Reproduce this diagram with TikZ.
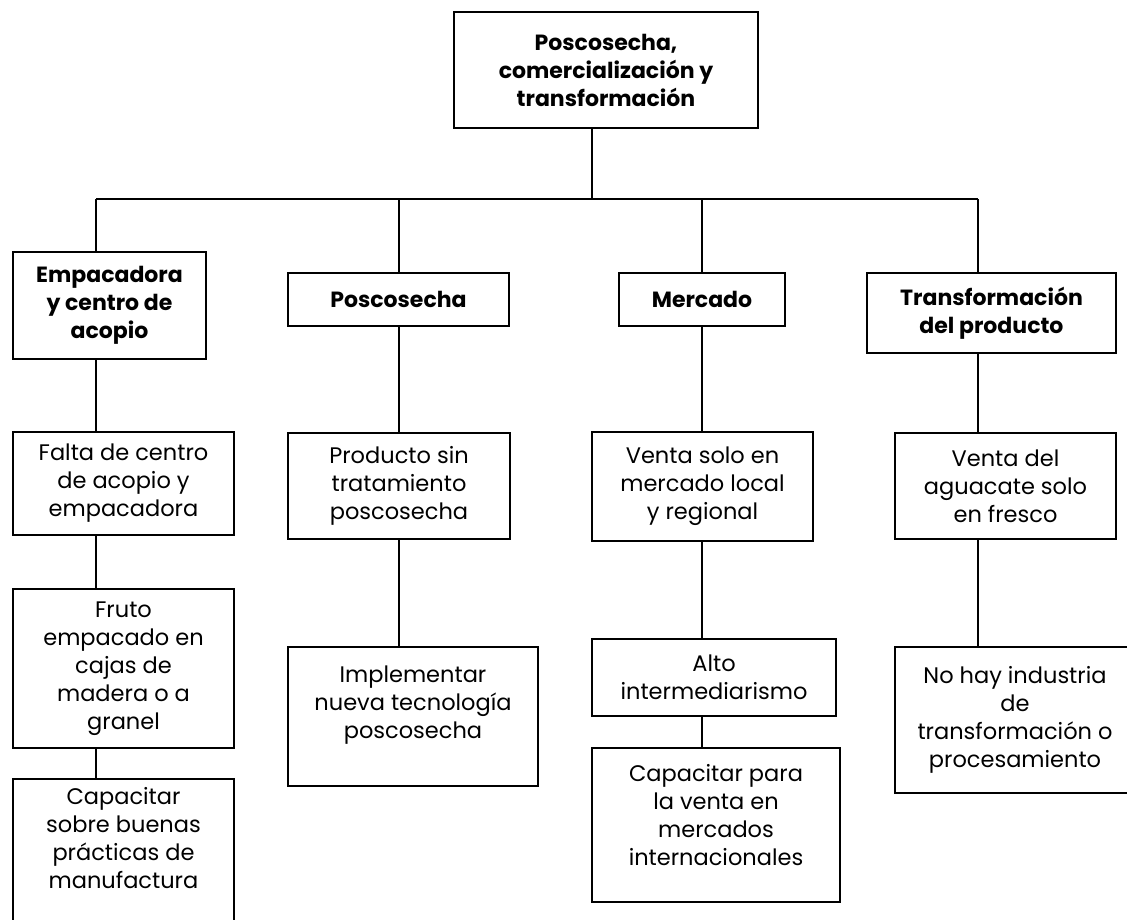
\documentclass[tikz,border=0pt]{standalone}
\usepackage{fontspec}
\setmainfont{Poppins}
\usepackage{tikz}
\usetikzlibrary{positioning}
\tikzset{
  caja/.style = {draw, line width=1.4pt, align=center, inner sep=0pt,
                 font=\fontsize{22.5}{28}\selectfont},
  cajab/.style = {caja, font=\fontsize{22}{28}\selectfont\bfseries},
  linea/.style = {line width=1.4pt}
}

\begin{document}
\begin{tikzpicture}[x=1pt,y=-1pt]
          \useasboundingbox (0,0) rectangle (1127,919);
          \node[cajab, minimum width=304, minimum height=116] (top) at (606,70) {Poscosecha,\\comercialización y\\transformación};
          \coordinate (c0) at (592,199);
          \coordinate (c1) at (96,199);
          \coordinate (c2) at (399,199);
          \coordinate (c3) at (702,199);
          \coordinate (c4) at (978,199);
          % primer nivel
          \node[cajab, minimum width=193, minimum height=107] (emp) at (109.5,305.5) {Empacadora\\y centro de\\acopio};
          \node[cajab, minimum width=221, minimum height=53] (pos) at (398.5,299.5) {Poscosecha};
          \node[cajab, minimum width=166, minimum height=53] (mer) at (702,299.5) {Mercado};
          \node[cajab, minimum width=249, minimum height=80] (tra) at (991.5,313) {Transformación\\del producto};
          % segundo nivel
          \node[caja, minimum width=221, minimum height=103] (falta) at (123.5,483.5) {Falta de centro\\de acopio y\\empacadora};
          \node[caja, minimum width=222, minimum height=106] (prod) at (399,486) {Producto sin\\tratamiento\\poscosecha};
          \node[caja, minimum width=221, minimum height=109] (venta) at (702.5,486.5) {Venta solo en\\mercado local\\y regional};
          \node[caja, minimum width=221, minimum height=106] (vdel) at (1005.5,486) {Venta del\\aguacate solo\\en fresco};
          % tercer nivel
          \node[caja, minimum width=221, minimum height=159] (fruto) at (123.5,668.5) {Fruto\\empacado en\\cajas de\\madera o a\\granel};
          \node[caja, minimum width=250, minimum height=139] (impl) at (413,716.5) {Implementar\\nueva tecnología\\poscosecha\\ \mbox{}};
          \node[caja, minimum width=244, minimum height=77] (alto) at (714,677.5) {Alto\\intermediarismo};
          \node[caja, minimum width=240, minimum height=146] (nohay) at (1015,720) {No hay industria\\de\\transformación o\\procesamiento};
          % cuarto nivel
          \node[caja, minimum width=221, minimum height=161] (capb) at (123.5,859.5) {Capacitar\\sobre buenas\\prácticas de\\manufactura\\[16pt] \mbox{}};
          \node[caja, minimum width=248, minimum height=154] (capm) at (716,825) {Capacitar para\\la venta en\\mercados\\internacionales\\[-8pt] \mbox{}};
          % conectores
          \draw[linea] (top.south -| c0) -- (c0);
          \draw[linea] (c1) -- (c4);
          \draw[linea] (c1) -- (c1 |- emp.north);
          \draw[linea] (c2) -- (c2 |- pos.north);
          \draw[linea] (c3) -- (c3 |- mer.north);
          \draw[linea] (c4) -- (c4 |- tra.north);
          \draw[linea] (emp.south -| c1) -- (falta.north -| c1);
          \draw[linea] (falta.south -| c1) -- (fruto.north -| c1);
          \draw[linea] (fruto.south -| c1) -- (capb.north -| c1);
          \draw[linea] (pos.south -| c2) -- (prod.north -| c2);
          \draw[linea] (prod.south -| c2) -- (impl.north -| c2);
          \draw[linea] (mer.south -| c3) -- (venta.north -| c3);
          \draw[linea] (venta.south -| c3) -- (alto.north -| c3);
          \draw[linea] (alto.south -| c3) -- (capm.north -| c3);
          \draw[linea] (tra.south -| c4) -- (vdel.north -| c4);
          \draw[linea] (vdel.south -| c4) -- (nohay.north -| c4);
        \end{tikzpicture}
\end{document}
